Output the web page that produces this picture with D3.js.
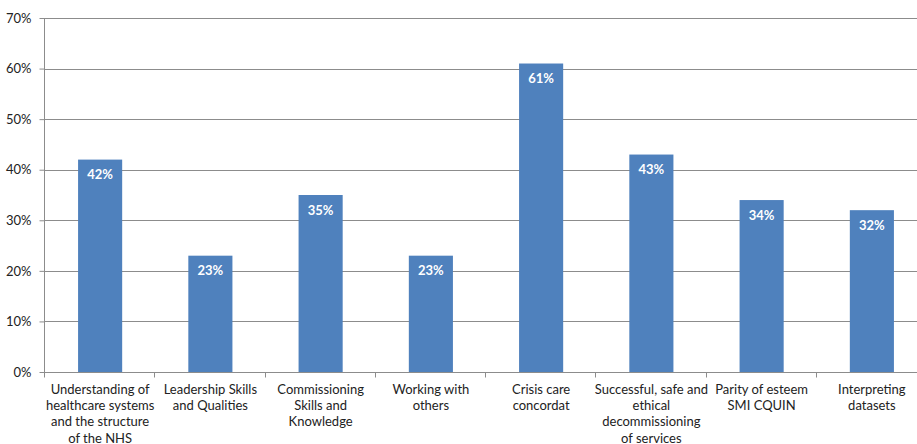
<!DOCTYPE html>
<html>
<head>
<meta charset="utf-8">
<script src="https://cdn.jsdelivr.net/npm/d3@7"></script>
<style>
  body { margin: 0; background: #fff; }
  svg { display: block; }
</style>
</head>
<body>
<div id="chart"></div>
<script>
const categories = [
  ['Understanding of', 'healthcare systems', 'and the structure', 'of the NHS'],
  ['Leadership Skills', 'and Qualities'],
  ['Commissioning', 'Skills and', 'Knowledge'],
  ['Working with', 'others'],
  ['Crisis care', 'concordat'],
  ['Successful, safe and', 'ethical', 'decommissioning', 'of services'],
  ['Parity of esteem', 'SMI CQUIN'],
  ['Interpreting', 'datasets']
];
const values = [42, 23, 35, 23, 61, 43, 34, 32];
const yTicks = [0, 10, 20, 30, 40, 50, 60, 70];

const width = 917, height = 444;
const margin = {top: 18, right: -10, bottom: 72, left: 45};
const font = 'Lato, "Open Sans", sans-serif';

const svg = d3.select('#chart')
  .append('svg')
  .attr('width', width)
  .attr('height', height)
  .style('font-family', font);

const x = d3.scaleBand()
  .domain(d3.range(values.length))
  .range([margin.left, width - margin.right]);

const y = d3.scaleLinear()
  .domain([0, 70])
  .range([height - margin.bottom, margin.top]);

// Gridlines
svg.append('g')
  .selectAll('line')
  .data(yTicks.filter(d => d > 0))
  .join('line')
  .attr('x1', margin.left)
  .attr('x2', width - margin.right)
  .attr('y1', d => Math.round(y(d)) + 0.5)
  .attr('y2', d => Math.round(y(d)) + 0.5)
  .attr('stroke', '#8c8c8c')
  .attr('stroke-width', 1);

// Y axis
svg.append('g')
  .attr('transform', `translate(${margin.left - 0.5},0)`)
  .call(d3.axisLeft(y)
    .tickValues(yTicks)
    .tickSize(5)
    .tickPadding(8)
    .tickFormat(d => d + '%'))
  .call(g => g.selectAll('.tick line').attr('stroke', '#8c8c8c'))
  .call(g => g.select('.domain').attr('stroke', '#8c8c8c').attr('d', `M0,${y(70)}V${y(0)}`))
  .call(g => g.selectAll('.tick text')
    .attr('fill', '#222')
    .style('font-family', font)
    .style('font-size', '13px'));

// Bars
const barW = x.bandwidth() * 0.4;
svg.append('g')
  .selectAll('rect')
  .data(values)
  .join('rect')
  .attr('x', (d, i) => x(i) + (x.bandwidth() - barW) / 2)
  .attr('y', d => y(d))
  .attr('width', barW)
  .attr('height', d => y(0) - y(d))
  .attr('fill', '#4f81bd');

// Bar labels
svg.append('g')
  .selectAll('text')
  .data(values)
  .join('text')
  .attr('x', (d, i) => x(i) + x.bandwidth() / 2)
  .attr('y', d => y(d) + 15)
  .attr('dy', '0.35em')
  .attr('text-anchor', 'middle')
  .attr('fill', '#fff')
  .style('font-weight', 'bold')
  .style('font-size', '13px')
  .text(d => d + '%');

// X axis
const baseY = Math.round(y(0)) + 0.5;
svg.append('line')
  .attr('x1', margin.left - 5)
  .attr('x2', width - margin.right)
  .attr('y1', baseY)
  .attr('y2', baseY)
  .attr('stroke', '#8c8c8c');

svg.append('g')
  .selectAll('line')
  .data(d3.range(values.length + 1))
  .join('line')
  .attr('x1', i => Math.round(margin.left + i * x.step()) - 0.5)
  .attr('x2', i => Math.round(margin.left + i * x.step()) - 0.5)
  .attr('y1', baseY)
  .attr('y2', baseY + 5)
  .attr('stroke', '#8c8c8c');

const labels = svg.append('g')
  .selectAll('text')
  .data(categories)
  .join('text')
  .attr('text-anchor', 'middle')
  .attr('fill', '#222')
  .style('font-size', '13px');

labels.selectAll('tspan')
  .data((d, i) => d.map(line => ({line, i})))
  .join('tspan')
  .attr('x', d => x(d.i) + x.bandwidth() / 2)
  .attr('y', (d, j) => baseY + 17 + j * 16.2)
  .attr('dy', '0.35em')
  .text(d => d.line);
</script>
</body>
</html>
